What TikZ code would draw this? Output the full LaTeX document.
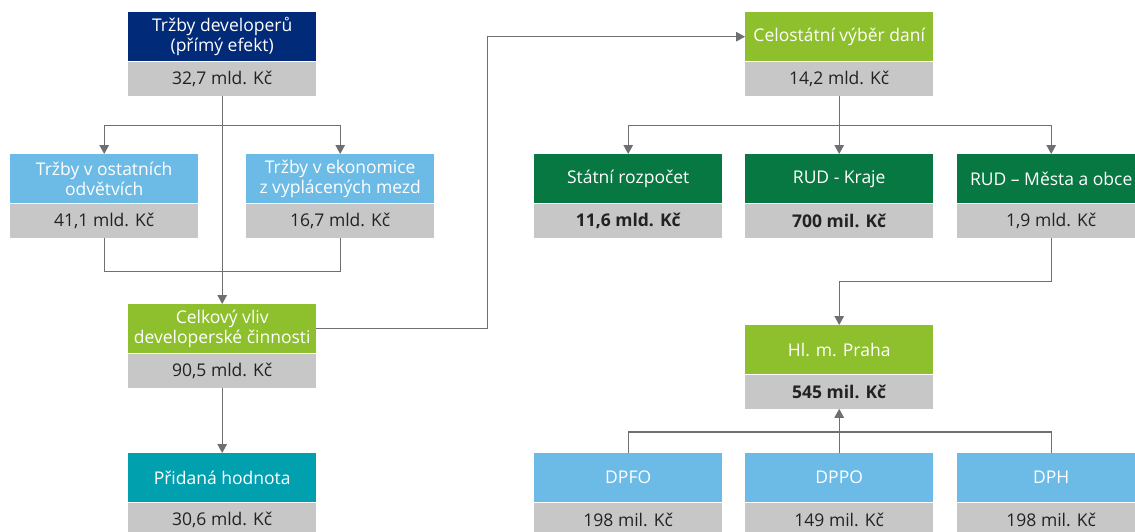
\documentclass[tikz,border=0pt]{standalone}
\usepackage{fontspec}
\setmainfont{Open Sans}
\usetikzlibrary{arrows.meta}
\definecolor{navy}{HTML}{012A78}
\definecolor{lblue}{HTML}{6CBBE6}
\definecolor{lgreen}{HTML}{8DC02C}
\definecolor{dgreen}{HTML}{087842}
\definecolor{myteal}{HTML}{00A0AF}
\definecolor{gbox}{HTML}{C7C7C7}
\definecolor{conncol}{HTML}{6E6F73}
\definecolor{valtext}{HTML}{222222}
\tikzset{
  hdr/.style={rectangle, inner sep=0pt, minimum width=188pt, minimum height=49pt, anchor=north west, text=white, align=center, font=\fontsize{17.5}{20}\selectfont},
  val/.style={rectangle, fill=gbox, inner sep=0pt, minimum width=188pt, minimum height=34pt, anchor=north, text=valtext, font=\fontsize{17.5}{20}\selectfont},
  valb/.style={val, font=\fontsize{17.5}{20}\selectfont\bfseries},
  conn/.style={draw=conncol, line width=1.2pt},
  arr/.style={conn, -{Triangle[width=9.5pt,length=9pt]}},
}
\begin{document}
\begin{tikzpicture}[x=1pt,y=1pt]
\useasboundingbox (0,-531) rectangle (1135,0);
\fill[white] (0,-531) rectangle (1135,0);
\clip (0,-531) rectangle (1135,0);
% left part
\node[hdr, fill=navy] (td) at (128,-12) {Tržby developerů\\(přímý efekt)};
\node[val] (tdv) at (td.south) {32,7 mld. Kč};
\node[hdr, fill=lblue] (to) at (10,-154) {Tržby v ostatních\\odvětvích};
\node[val] (tov) at (to.south) {41,1 mld. Kč};
\node[hdr, fill=lblue] (te) at (246,-154) {Tržby v ekonomice\\z vyplácených mezd};
\node[val] (tev) at (te.south) {16,7 mld. Kč};
\node[hdr, fill=lgreen] (cv) at (128,-304) {Celkový vliv\\developerské činnosti};
\node[val] (cvv) at (cv.south) {90,5 mld. Kč};
\node[hdr, fill=myteal] (ph) at (128,-453) {Přidaná hodnota};
\node[val] (phv) at (ph.south) {30,6 mld. Kč};
% right part
\node[hdr, fill=lgreen] (cvd) at (745,-12) {Celostátní výběr daní};
\node[val] (cvdv) at (cvd.south) {14,2 mld. Kč};
\node[hdr, fill=dgreen] (sr) at (534,-154) {Státní rozpočet};
\node[valb] (srv) at (sr.south) {11,6 mld. Kč};
\node[hdr, fill=dgreen] (rk) at (745,-154) {RUD - Kraje};
\node[valb] (rkv) at (rk.south) {700 mil. Kč};
\node[hdr, fill=dgreen] (rm) at (957,-154) {RUD – Města a obce};
\node[val] (rmv) at (rm.south) {1,9 mld. Kč};
\node[hdr, fill=lgreen] (hp) at (745,-325) {Hl. m. Praha};
\node[valb] (hpv) at (hp.south) {545 mil. Kč};
\node[hdr, fill=lblue] (dpfo) at (534,-453) {DPFO};
\node[val] (dpfov) at (dpfo.south) {198 mil. Kč};
\node[hdr, fill=lblue] (dppo) at (745,-453) {DPPO};
\node[val] (dppov) at (dppo.south) {149 mil. Kč};
\node[hdr, fill=lblue] (dph) at (957,-453) {DPH};
\node[val] (dphv) at (dph.south) {198 mil. Kč};
% connectors left
\path (tdv.south) ++(0,-30) coordinate (b1);
\draw[arr] (tdv.south) -- (cv.north);
\draw[arr] (b1) -| (to.north);
\draw[arr] (b1) -| (te.north);
\draw[conn] (tov.south) -- ++(0,-34) -| (tev.south);
\draw[arr] (cvv.south) -- (ph.north);
\draw[arr] (cv.east) -- ++(171,0) |- (cvd.west);
% connectors right
\path (cvdv.south) ++(0,-30) coordinate (b2);
\draw[conn] (cvdv.south) -- (b2);
\draw[arr] (b2) -| (sr.north);
\draw[arr] (b2) -- (rk.north);
\draw[arr] (b2) -| (rm.north);
\draw[arr] (rmv.south) -- ++(0,-44) -| (hp.north);
\draw[conn] (dpfo.north) -- ++(0,21) -| (dph.north);
\draw[arr] (dppo.north) -- (hpv.south);
\end{tikzpicture}
\end{document}
